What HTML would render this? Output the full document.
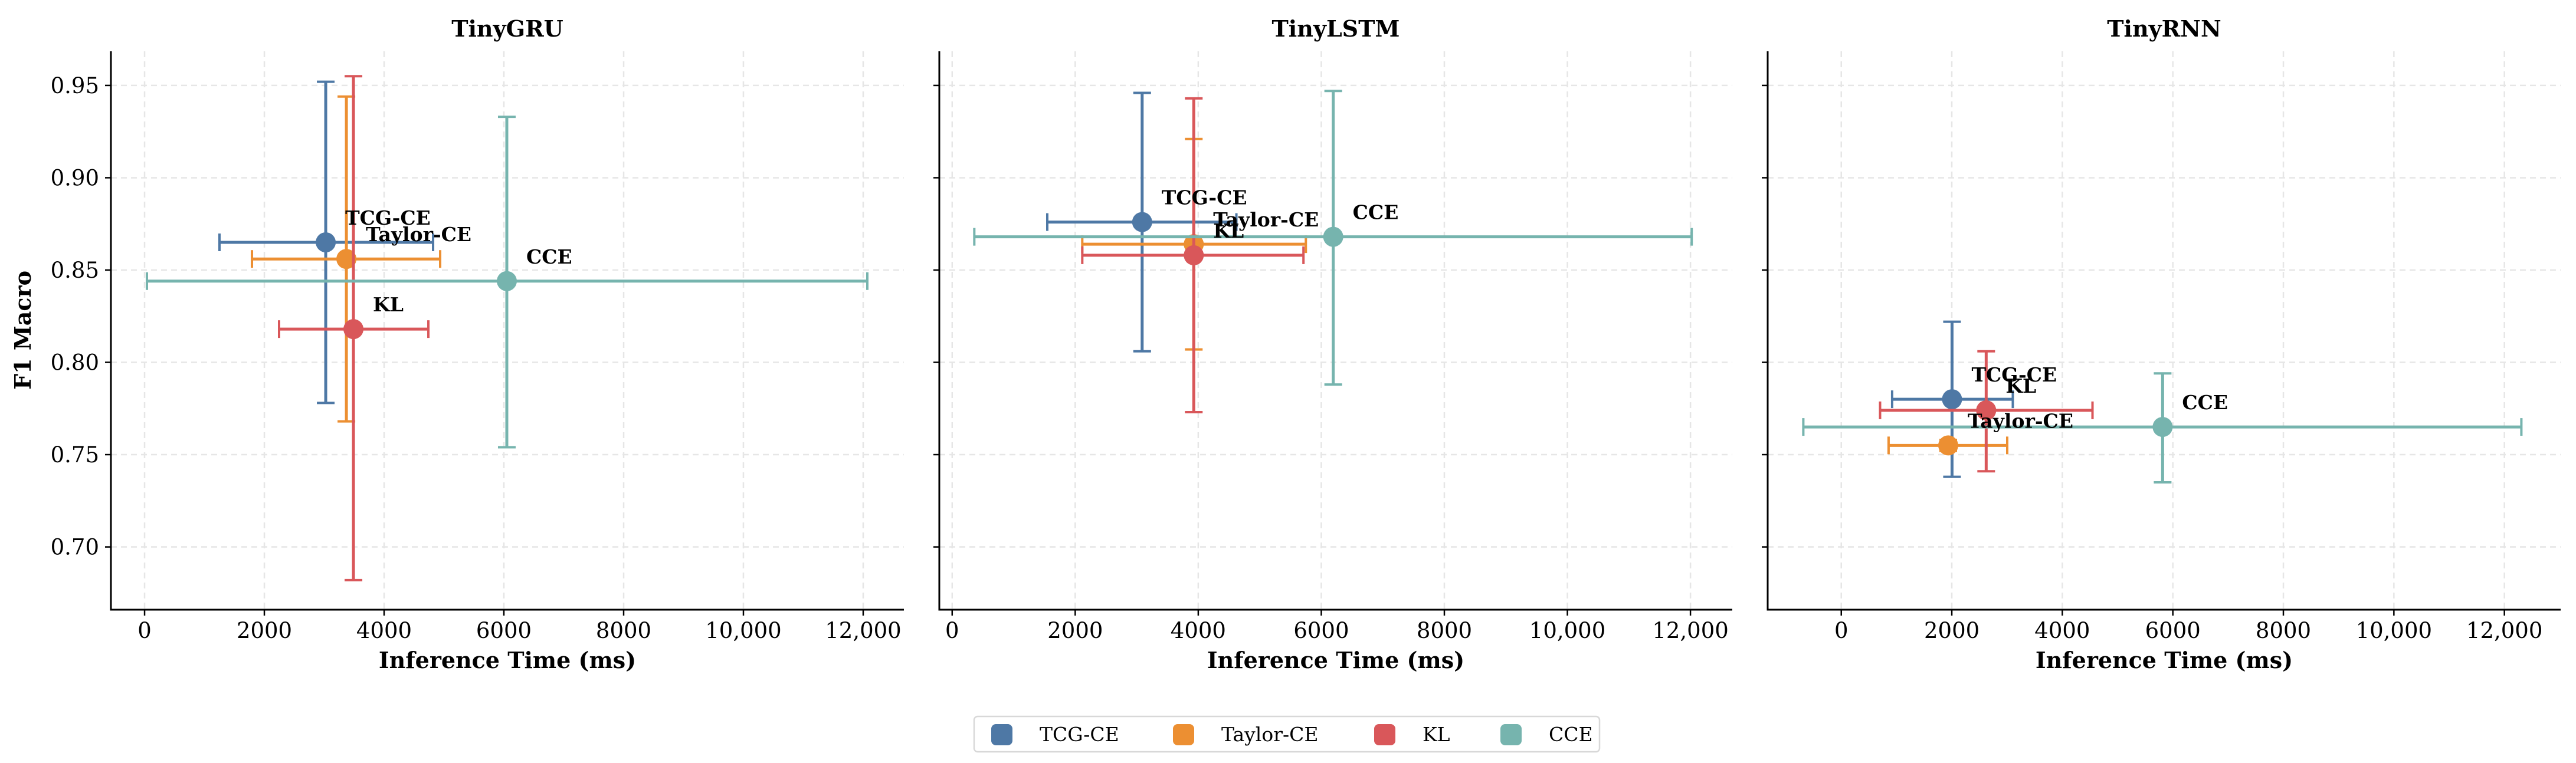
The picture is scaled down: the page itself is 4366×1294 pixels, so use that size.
<!DOCTYPE html>
<html><head><meta charset="utf-8">
<style>
html,body{margin:0;padding:0;background:#fff;}
svg{display:block;font-family:"DejaVu Serif","Liberation Serif",serif;}
</style></head>
<body>
<svg id="chart" width="4366" height="1294" viewBox="0 0 4366 1294" xmlns="http://www.w3.org/2000/svg"></svg>
<script>
const panelTitles = ["TinyGRU", "TinyLSTM", "TinyRNN"];
const seriesNames = ["TCG-CE", "Taylor-CE", "KL", "CCE"];
const seriesColors = ["#4e78a5", "#ec8f32", "#d9575a", "#76b4ae"];
const gruX = [3025, 3370, 3488, 6049];
const gruXLo = [1251, 1793, 2246, 39];
const gruXHi = [4818, 4936, 4739, 12069];
const gruY = [0.865, 0.856, 0.818, 0.844];
const gruYLo = [0.778, 0.768, 0.682, 0.754];
const gruYHi = [0.952, 0.944, 0.955, 0.933];
const lstmX = [3088, 3927, 3927, 6194];
const lstmXLo = [1546, 2115, 2115, 360];
const lstmXHi = [4620, 5749, 5710, 12020];
const lstmY = [0.876, 0.864, 0.858, 0.868];
const lstmYLo = [0.806, 0.807, 0.773, 0.788];
const lstmYHi = [0.946, 0.921, 0.943, 0.947];
const rnnX = [2004, 1935, 2622, 5815];
const rnnXLo = [920, 856, 702, -687];
const rnnXHi = [3104, 3003, 4546, 12307];
const rnnY = [0.780, 0.755, 0.774, 0.765];
const rnnYLo = [0.738, 0.752, 0.741, 0.735];
const rnnYHi = [0.822, 0.758, 0.806, 0.794];
const xTicks = [0, 2000, 4000, 6000, 8000, 10000, 12000];
const xTickLabels = ["0", "2000", "4000", "6000", "8000", "10,000", "12,000"];
const yTicks = [0.70, 0.75, 0.80, 0.85, 0.90, 0.95];
const yTickLabels = ["0.70", "0.75", "0.80", "0.85", "0.90", "0.95"];
const xDomains = [[-562, 12680], [-209, 12680], [-1332, 13018]];
const yDomain = [0.666, 0.9685];

const NS = "http://www.w3.org/2000/svg";
const svg = document.getElementById('chart');
function el(tag, attrs, parent, text){
  const e = document.createElementNS(NS, tag);
  for (const k in attrs) e.setAttribute(k, attrs[k]);
  if (text !== undefined) e.textContent = text;
  (parent || svg).appendChild(e);
  return e;
}
const panels = [
  {x: gruX, xlo: gruXLo, xhi: gruXHi, y: gruY, ylo: gruYLo, yhi: gruYHi},
  {x: lstmX, xlo: lstmXLo, xhi: lstmXHi, y: lstmY, ylo: lstmYLo, yhi: lstmYHi},
  {x: rnnX, xlo: rnnXLo, xhi: rnnXHi, y: rnnY, ylo: rnnYLo, yhi: rnnYHi}
];
const lefts = [188, 1592, 2996];
const W = 1344, TOP = 87, BOT = 1034;

panels.forEach((p, pi) => {
  const L = lefts[pi], R = L + W;
  const xd = xDomains[pi];
  const sx = v => L + (v - xd[0]) / (xd[1] - xd[0]) * W;
  const sy = v => BOT - (v - yDomain[0]) / (yDomain[1] - yDomain[0]) * (BOT - TOP);
  const g = el('g', {});
  
  
  xTicks.forEach(t => {
    const ln = el('line', {x1: sx(t), x2: sx(t), y1: TOP, y2: BOT, stroke: '#e6e6e6', 'stroke-width': 2.5, 'stroke-dasharray': '10 7'}, g);
    
    
  });
  yTicks.forEach(t => {
    const ln = el('line', {x1: L, x2: R, y1: sy(t), y2: sy(t), stroke: '#e6e6e6', 'stroke-width': 2.5, 'stroke-dasharray': '10 7'}, g);
    
    
  });
  seriesNames.forEach((name, si) => {
    const c = seriesColors[si];
    const sg = el('g', {}, g);
    
    
    const cx = sx(p.x[si]), cy = sy(p.y[si]);
    const x1 = sx(p.xlo[si]), x2 = sx(p.xhi[si]);
    const y1 = sy(p.ylo[si]), y2 = sy(p.yhi[si]);
    el('line', {x1: x1, x2: x2, y1: cy, y2: cy, stroke: c, 'stroke-width': 5}, sg);
    el('line', {x1: cx, x2: cx, y1: y1, y2: y2, stroke: c, 'stroke-width': 5}, sg);
    el('line', {x1: x1, x2: x1, y1: cy - 15, y2: cy + 15, stroke: c, 'stroke-width': 4}, sg);
    el('line', {x1: x2, x2: x2, y1: cy - 15, y2: cy + 15, stroke: c, 'stroke-width': 4}, sg);
    el('line', {x1: cx - 15, x2: cx + 15, y1: y1, y2: y1, stroke: c, 'stroke-width': 4}, sg);
    el('line', {x1: cx - 15, x2: cx + 15, y1: y2, y2: y2, stroke: c, 'stroke-width': 4}, sg);
    const m = el('circle', {cx: cx, cy: cy, r: 17, fill: c}, sg);
    
    
  });
  seriesNames.forEach((name, si) => {
    const t = el('text', {x: sx(p.x[si]) + 33, y: sy(p.y[si]) - 30, 'font-size': 33, 'font-weight': 'bold', fill: '#000'}, g, name);
    
    
  });
  el('line', {x1: L, x2: L, y1: TOP, y2: BOT + 1.5, stroke: '#000', 'stroke-width': 3}, g);
  el('line', {x1: L - 1.5, x2: R, y1: BOT, y2: BOT, stroke: '#000', 'stroke-width': 3}, g);
  xTicks.forEach((t, i) => {
    el('line', {x1: sx(t), x2: sx(t), y1: BOT, y2: BOT + 10, stroke: '#000', 'stroke-width': 2.5}, g);
    const tl = el('text', {x: sx(t), y: BOT + 48, 'font-size': 37, 'text-anchor': 'middle'}, g, xTickLabels[i]);
    
    
  });
  yTicks.forEach((t, i) => {
    el('line', {x1: L - 10, x2: L, y1: sy(t), y2: sy(t), stroke: '#000', 'stroke-width': 2.5}, g);
    if (pi === 0) {
      const tl = el('text', {x: L - 20, y: sy(t) + 13, 'font-size': 37, 'text-anchor': 'end'}, g, yTickLabels[i]);
      
      
    }
  });
  const title = el('text', {x: L + W / 2, y: 62, 'font-size': 38, 'font-weight': 'bold', 'text-anchor': 'middle'}, g, panelTitles[pi]);
  
  
  const xl = el('text', {x: L + W / 2, y: 1133, 'font-size': 38, 'font-weight': 'bold', 'text-anchor': 'middle'}, g, 'Inference Time (ms)');
  
  
});
const yl = el('text', {x: 0, y: 0, 'font-size': 38, 'font-weight': 'bold', 'text-anchor': 'middle', transform: 'translate(52,560) rotate(-90)'}, svg, 'F1 Macro');



const lg = el('g', {});


el('rect', {x: 1651, y: 1215, width: 1060, height: 60, rx: 6, fill: '#fff', stroke: '#d8d8d8', 'stroke-width': 2.5}, lg);
const legMarkX = [1698, 2006, 2347, 2561];
seriesNames.forEach((name, si) => {
  const eg = el('g', {}, lg);
  
  
  const mx = legMarkX[si], c = seriesColors[si];
  el('rect', {x: mx - 18, y: 1228, width: 36, height: 36, rx: 8, fill: c}, eg);
  el('text', {x: mx + 64, y: 1257, 'font-size': 33}, eg, name);
});
</script>
</body></html>
